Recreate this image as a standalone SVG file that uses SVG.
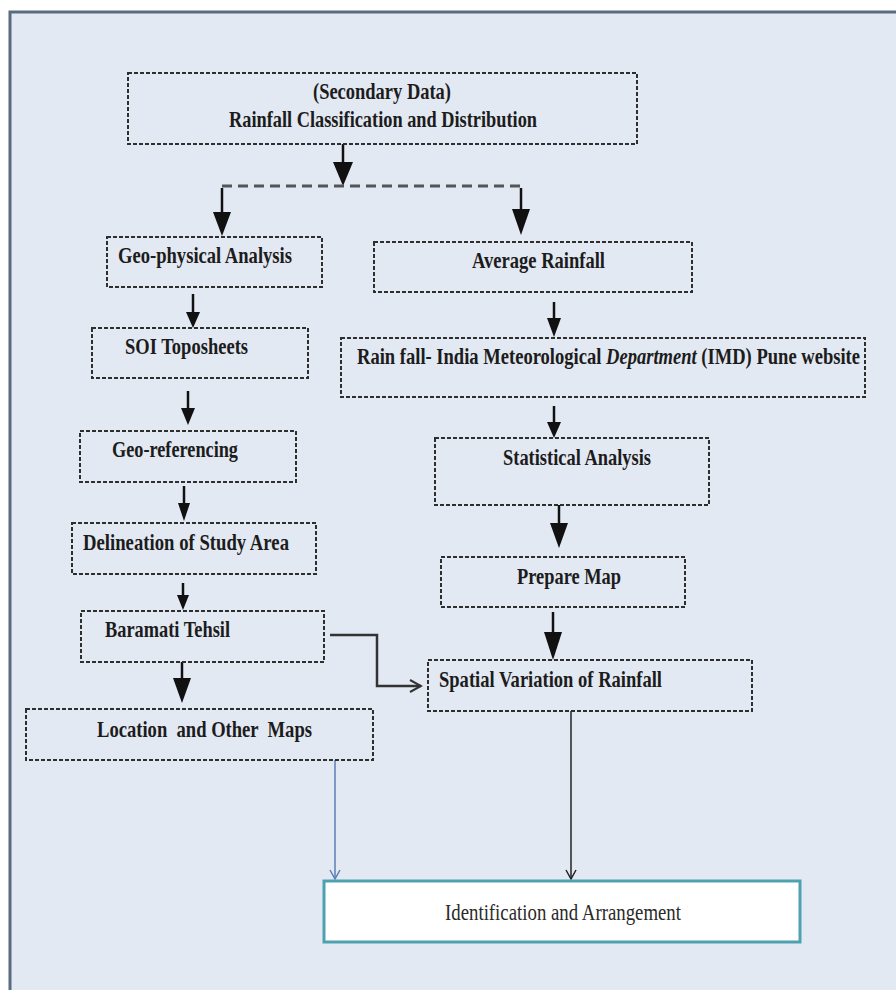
<svg xmlns="http://www.w3.org/2000/svg" width="896" height="990" viewBox="0 0 896 990">
<style>
.bx{fill:none;stroke:#2e2e2e;stroke-width:2;stroke-dasharray:4 2}
.t{font-family:"Liberation Serif","Times New Roman",serif;font-weight:bold;font-size:23.5px;fill:#1c1c1c;white-space:pre}
.tr{font-family:"Liberation Serif","Times New Roman",serif;font-size:24px;fill:#2a2a2a}
.ln{stroke:#111;stroke-width:2.5;fill:none}
.hd{fill:#111}
</style>
<defs>
<marker id="openK" markerWidth="12" markerHeight="12" refX="10" refY="6" orient="auto" markerUnits="userSpaceOnUse">
<path d="M1,1 L10,6 L1,11" fill="none" stroke="#222" stroke-width="1.5"/>
</marker>
<marker id="openB" markerWidth="12" markerHeight="12" refX="10" refY="6" orient="auto" markerUnits="userSpaceOnUse">
<path d="M1,1 L10,6 L1,11" fill="none" stroke="#5b7fb8" stroke-width="1.5"/>
</marker>
<marker id="openG" markerWidth="14" markerHeight="14" refX="12" refY="7" orient="auto" markerUnits="userSpaceOnUse">
<path d="M1,1 L12,7 L1,13" fill="none" stroke="#333" stroke-width="2"/>
</marker>
</defs>
<rect x="0" y="0" width="896" height="990" fill="#ffffff"/>
<rect id="frame" x="10" y="12" width="900" height="1000" fill="#e3e9f3" stroke="#5a6b80" stroke-width="3"/>

<g id="connectors">
<line class="ln" x1="343" y1="144" x2="343" y2="164"/>
<polygon class="hd" points="333,162 353,162 343,186"/>
<line x1="222" y1="186" x2="520" y2="186" stroke="#555" stroke-width="3" stroke-dasharray="10 6"/>
<line class="ln" x1="222" y1="188" x2="222" y2="214"/>
<polygon class="hd" points="213,212 231,212 222,236"/>
<line class="ln" x1="521" y1="188" x2="521" y2="211"/>
<polygon class="hd" points="512,209 530,209 521,235"/>
<line class="ln" x1="193" y1="294" x2="193" y2="314"/>
<polygon class="hd" points="186,312 200,312 193,328"/>
<line class="ln" x1="188" y1="391" x2="188" y2="410"/>
<polygon class="hd" points="181,408 195,408 188,425"/>
<line class="ln" x1="184" y1="486" x2="184" y2="505"/>
<polygon class="hd" points="178,503 190,503 184,521"/>
<line class="ln" x1="183" y1="583" x2="183" y2="597"/>
<polygon class="hd" points="177,595 189,595 183,610"/>
<line class="ln" x1="182" y1="662" x2="182" y2="680"/>
<polygon class="hd" points="173,678 191,678 182,703"/>
<line class="ln" x1="554" y1="302" x2="554" y2="320"/>
<polygon class="hd" points="547,318 561,318 554,337"/>
<line class="ln" x1="554" y1="406" x2="554" y2="424"/>
<polygon class="hd" points="547,422 561,422 554,438"/>
<line class="ln" x1="559" y1="505" x2="559" y2="525"/>
<polygon class="hd" points="550,523 568,523 559,548"/>
<line class="ln" x1="553" y1="612" x2="553" y2="634"/>
<polygon class="hd" points="544,632 562,632 553,660"/>
<polyline points="330,635 377,635 377,686 421,686" fill="none" stroke="#333" stroke-width="2.5" marker-end="url(#openG)"/>
<line x1="335" y1="760" x2="335" y2="879" stroke="#5b7fb8" stroke-width="1.5" marker-end="url(#openB)"/>
<line x1="571" y1="711" x2="571" y2="879" stroke="#222" stroke-width="1.5" marker-end="url(#openK)"/>
</g>

<g id="n-secondary">
<rect class="bx" x="128" y="73" width="509" height="71"/>
<text class="t" x="313" y="99" textLength="138" lengthAdjust="spacingAndGlyphs">(Secondary Data)</text>
<text class="t" x="229" y="127" textLength="308" lengthAdjust="spacingAndGlyphs">Rainfall Classification and Distribution</text>
</g>
<g id="n-geophysical">
<rect class="bx" x="107" y="237" width="215" height="50"/>
<text class="t" x="118" y="263" textLength="174" lengthAdjust="spacingAndGlyphs">Geo-physical Analysis</text>
</g>
<g id="n-soi">
<rect class="bx" x="92" y="328" width="216" height="50"/>
<text class="t" x="125" y="354" textLength="123" lengthAdjust="spacingAndGlyphs">SOI Toposheets</text>
</g>
<g id="n-georef">
<rect class="bx" x="80" y="431" width="216" height="51"/>
<text class="t" x="112" y="457" textLength="126" lengthAdjust="spacingAndGlyphs">Geo-referencing</text>
</g>
<g id="n-delineation">
<rect class="bx" x="72" y="523" width="244" height="51"/>
<text class="t" x="83" y="550" textLength="206" lengthAdjust="spacingAndGlyphs">Delineation of Study Area</text>
</g>
<g id="n-baramati">
<rect class="bx" x="81" y="611" width="243" height="51"/>
<text class="t" x="105" y="637" textLength="125" lengthAdjust="spacingAndGlyphs">Baramati Tehsil</text>
</g>
<g id="n-location">
<rect class="bx" x="26" y="709" width="347" height="51"/>
<text class="t" x="97" y="737" textLength="215" lengthAdjust="spacingAndGlyphs">Location  and Other  Maps</text>
</g>
<g id="n-average">
<rect class="bx" x="374" y="242" width="318" height="50"/>
<text class="t" x="472" y="268" textLength="133" lengthAdjust="spacingAndGlyphs">Average Rainfall</text>
</g>
<g id="n-imd">
<rect class="bx" x="341" y="338" width="524" height="59"/>
<text class="t" transform="translate(357,364) scale(0.79,1)" x="0" y="0">Rain fall- India Meteorological <tspan font-style="italic">Department</tspan> (IMD) Pune website</text>
</g>
<g id="n-statistical">
<rect class="bx" x="435" y="438" width="274" height="67"/>
<text class="t" x="503" y="465" textLength="148" lengthAdjust="spacingAndGlyphs">Statistical Analysis</text>
</g>
<g id="n-prepare">
<rect class="bx" x="441" y="557" width="244" height="50"/>
<text class="t" x="517" y="584" textLength="104" lengthAdjust="spacingAndGlyphs">Prepare Map</text>
</g>
<g id="n-spatial">
<rect class="bx" x="428" y="660" width="324" height="51"/>
<text class="t" x="439" y="687" textLength="223" lengthAdjust="spacingAndGlyphs">Spatial Variation of Rainfall</text>
</g>
<g id="n-identification">
<rect x="324" y="881" width="476" height="61" fill="#ffffff" stroke="#4ea2b0" stroke-width="3"/>
<text class="tr" x="445" y="920" textLength="236" lengthAdjust="spacingAndGlyphs">Identification and Arrangement</text>
</g>
</svg>
